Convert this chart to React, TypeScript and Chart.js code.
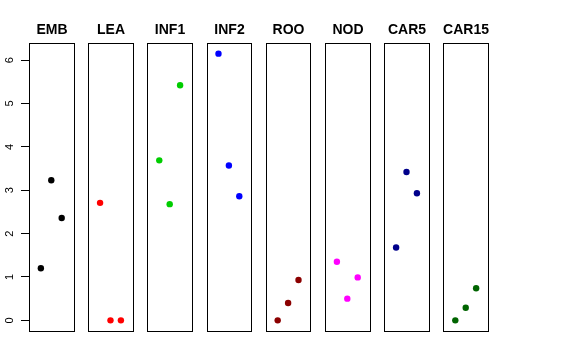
import React, { useEffect, useRef } from "react";
import { Chart, registerables } from "chart.js";

Chart.register(...registerables);

const panels = ["EMB", "LEA", "INF1", "INF2", "ROO", "NOD", "CAR5", "CAR15"];
const colors = ["#000000", "#FF0000", "#00CD00", "#0000FF", "#8B0000", "#FF00FF", "#00008B", "#006400"];
const positions = [1, 2, 3];
const embValues = [1.2, 3.23, 2.36];
const leaValues = [2.71, 0, 0];
const inf1Values = [3.69, 2.68, 5.42];
const inf2Values = [6.15, 3.57, 2.86];
const rooValues = [0, 0.4, 0.93];
const nodValues = [1.35, 0.5, 0.99];
const car5Values = [1.68, 3.42, 2.93];
const car15Values = [0, 0.29, 0.74];
const yTicks = [0, 1, 2, 3, 4, 5, 6];

const seriesValues = [embValues, leaValues, inf1Values, inf2Values, rooValues, nodValues, car5Values, car15Values];

const PANEL_W = 4.28; // x units per panel
const PANEL_GAP = 5.687; // x units between panel starts
const Y_MIN = -0.246;
const Y_MAX = 6.396;

const panelPlugin = {
  id: "panels",
  afterDatasetsDraw(chart: any) {
    const ctx = chart.ctx;
    const xs = chart.scales.x;
    const ys = chart.scales.y;
    ctx.save();
    // boxes
    ctx.strokeStyle = "#000000";
    ctx.lineWidth = 1;
    const top = Math.round(ys.getPixelForValue(Y_MAX)) + 0.5;
    const bottom = Math.round(ys.getPixelForValue(Y_MIN)) + 0.5;
    panels.forEach((name, i) => {
      const l = Math.round(xs.getPixelForValue(i * PANEL_GAP)) + 0.5;
      const r = Math.round(xs.getPixelForValue(i * PANEL_GAP + PANEL_W)) + 0.5;
      ctx.strokeRect(l, top, r - l, bottom - top);
      ctx.fillStyle = "#000000";
      ctx.font = "bold 14px 'Liberation Sans', Arial, sans-serif";
      ctx.textAlign = "center";
      ctx.textBaseline = "alphabetic";
      ctx.fillText(name, (l + r) / 2, 34);
    });
    // y tick labels rotated
    ctx.font = "11px 'Liberation Sans', Arial, sans-serif";
    ctx.fillStyle = "#000000";
    yTicks.forEach((v) => {
      const y = ys.getPixelForValue(v);
      ctx.save();
      ctx.translate(10, y);
      ctx.rotate(-Math.PI / 2);
      ctx.textAlign = "center";
      ctx.textBaseline = "middle";
      ctx.fillText(String(v), 0, 0);
      ctx.restore();
    });
    ctx.restore();
  },
};

export default function App() {
  const ref = useRef<HTMLCanvasElement | null>(null);
  useEffect(() => {
    if (!ref.current) return;
    const datasets = panels.map((name, i) => ({
      label: name,
      data: positions.map((p, k) => ({
        x: i * PANEL_GAP + PANEL_W / 2 + (p - 2),
        y: seriesValues[i][k],
      })),
      backgroundColor: colors[i],
      borderColor: colors[i],
      borderWidth: 0,
      pointRadius: 3.2,
      pointHoverRadius: 3.2,
    }));
    const chart = new Chart(ref.current, {
      type: "scatter",
      data: { datasets },
      options: {
        animation: false,
        responsive: false,
        maintainAspectRatio: false,
        layout: { padding: { top: 43, right: 88, bottom: 29, left: 0 } },
        plugins: { legend: { display: false }, tooltip: { enabled: false }, title: { display: false } },
        scales: {
          x: {
            type: "linear",
            display: false,
            min: 0,
            max: 7 * PANEL_GAP + PANEL_W,
          },
          y: {
            type: "linear",
            min: Y_MIN,
            max: Y_MAX,
            afterBuildTicks: (scale: any) => {
              scale.ticks = yTicks.map((v) => ({ value: v }));
            },
            afterFit: (scale: any) => {
              scale.width = 29;
            },
            ticks: { display: false },
            border: { display: false },
            grid: {
              drawOnChartArea: false,
              drawTicks: true,
              tickLength: 8,
              color: "#000000",
              lineWidth: 1,
            },
          },
        },
      },
      plugins: [panelPlugin],
    });
    return () => chart.destroy();
  }, []);
  return (
    <div style={{ position: "fixed", left: 0, top: 0, width: 576, height: 360, background: "#ffffff" }}>
      <canvas ref={ref} width={576} height={360} style={{ width: 576, height: 360 }} />
    </div>
  );
}
